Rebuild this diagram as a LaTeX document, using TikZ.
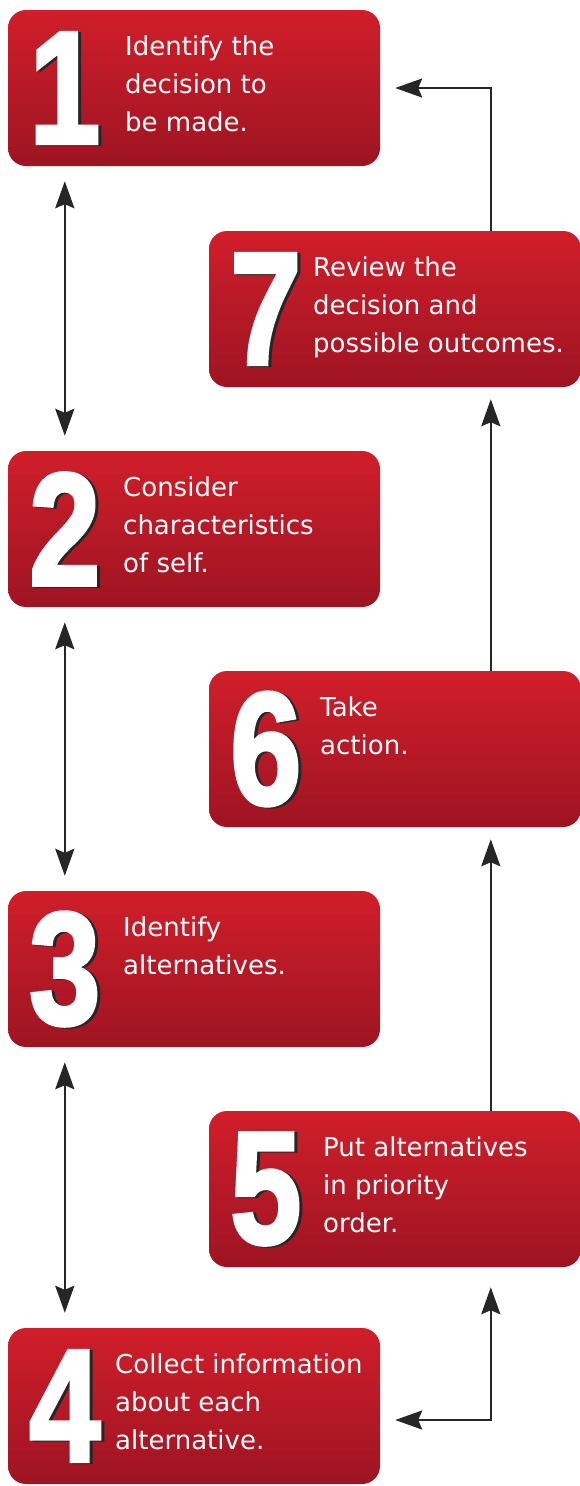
\documentclass[tikz,border=0pt]{standalone}
\usepackage{graphicx}
\usepackage{fontspec}
\setmainfont{DejaVu Sans}
\newfontfamily\numfont[BoldFeatures={FakeBold=2.5}]{Liberation Sans}
\usepackage{tikz}
\usetikzlibrary{arrows.meta}
\usetikzlibrary{positioning}

\definecolor{boxtop}{RGB}{208,30,42}
\definecolor{boxbottom}{RGB}{158,20,34}

\begin{document}
\begin{tikzpicture}[
    x=1pt, y=-1pt,
    >={Stealth[length=27pt, width=19pt, inset=4pt]},
    stepbox/.style={rectangle, rounded corners=18pt, minimum width=372pt, minimum height=156pt, top color=boxtop, bottom color=boxbottom},
    bignum/.style={inner sep=0, text=white, font=\numfont\bfseries\fontsize{160}{160}\selectfont},
    steptext/.style={anchor=north west, inner sep=0, align=left, text=white, font=\fontsize{26}{38}\selectfont},
    link/.style={draw=black!85, line width=2.5pt},
    ]

    \useasboundingbox (0,0) rectangle (580,1486);

    \foreach \n/\cx/\cy/\tx/\txt in {
        1/194/88/125/{Identify the\\decision to\\be made.},
        7/395/309/313/{Review the\\decision and\\possible outcomes.},
        2/194/529/123/{Consider\\characteristics\\of self.},
        6/395/749/320/{Take\\action.},
        3/194/969/123/{Identify\\alternatives.},
        5/395/1189/323/{Put alternatives\\in priority\\order.},
        4/194/1406/115/{Collect information\\about each\\alternative.}} {
        \node (b\n) [stepbox] at (\cx,\cy) {};
        \node (s\n) [bignum, text=black!85] at ([xshift=60pt, yshift=-1pt]b\n.west) {\scalebox{0.8}[1]{\n}};
        \node (d\n) [bignum] at ([xshift=57pt]b\n.west) {\scalebox{0.8}[1]{\n}};
        \node (t\n) [steptext] at (\tx,\cy-52) {\txt};
    }

    % left column, both ways
    \foreach \a/\b in {1/2, 2/3, 3/4} {
        \draw [link, <->, shorten <=15pt, shorten >=15pt] ([xshift=57pt]b\a.south west) -- ([xshift=57pt]b\b.north west);
    }

    % right column, upwards
    \draw [link, <->, shorten <=15pt, shorten >=20pt] ([yshift=-14pt]b4.east) -| ([xshift=282pt]b5.south west);
    \foreach \a/\b in {5/6, 6/7} {
        \draw [link, ->, shorten >=12pt] ([xshift=282pt]b\a.north west) -- ([xshift=282pt]b\b.south west);
    }
    \draw [link, ->, shorten >=15pt] ([xshift=282pt]b7.north west) |- (b1.east);
\end{tikzpicture}
\end{document}
